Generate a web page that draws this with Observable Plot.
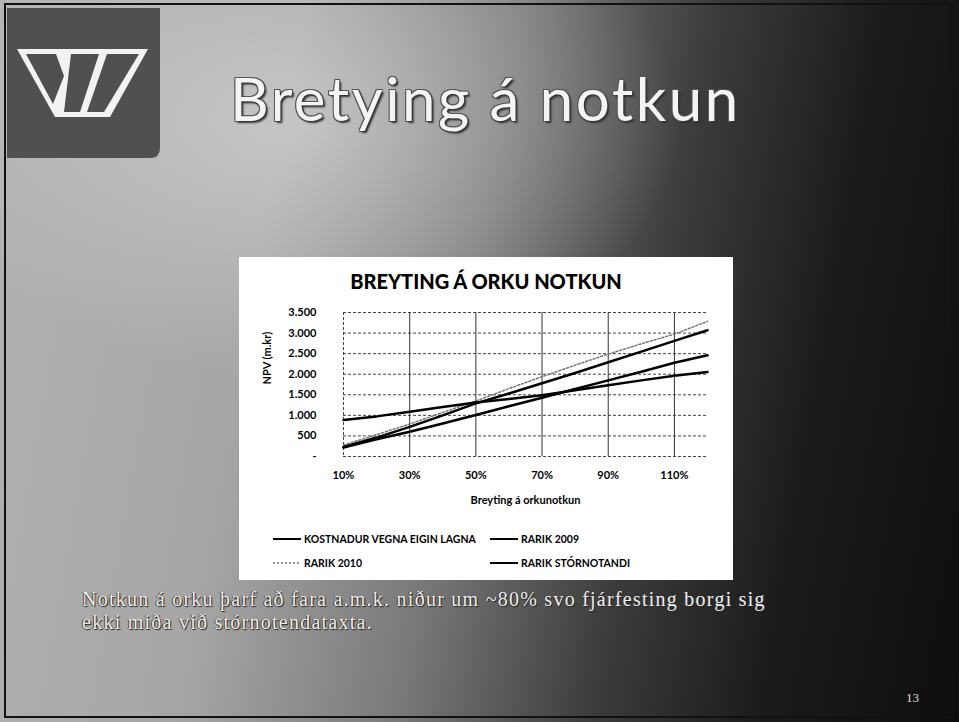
<!DOCTYPE html>
<html>
<head>
<meta charset="utf-8">
<script src="https://cdn.jsdelivr.net/npm/d3@7"></script>
<script src="https://cdn.jsdelivr.net/npm/@observablehq/plot@0.6"></script>
<style>
  html, body { margin: 0; padding: 0; }
  body {
    width: 959px; height: 722px; position: relative; overflow: hidden;
    background:
      radial-gradient(ellipse 380px 260px at 300px 120px, rgba(225,225,225,0.55), rgba(225,225,225,0) 100%),
      linear-gradient(100deg, #b2b2b2 0%, #a6a6a6 28%, #7a7a7a 48%, #3c3c3c 66%, #1a1a1a 82%, #0e0e0e 100%);
    font-family: Lato, "Open Sans", sans-serif;
  }
  .frame { position: absolute; left: 4px; top: 3px; width: 949px; height: 715px; border: 2px solid #111; box-sizing: border-box; }
  #logo { position: absolute; left: 7px; top: 8px; }
  #title {
    position: absolute; left: 230px; top: 62px; font-family: Lato, sans-serif; font-size: 60px;
    color: #f4f4f4; letter-spacing: 2.5px; white-space: nowrap;
    text-shadow: 2px 2px 2px #333, -1px -1px 0 #555, 1px -1px 0 #555, -1px 1px 0 #555;
  }
  #box { position: absolute; left: 239px; top: 257px; width: 494px; height: 323px; background: #fff; }
  #ctitle { position: absolute; left: 239px; top: 269px; width: 494px; text-align: center; font-family: Lato, sans-serif; font-weight: 900; font-size: 20px; color: #000; }
  #chart { position: absolute; left: 239px; top: 300px; }
  .leg { position: absolute; font-family: Lato, sans-serif; font-weight: bold; font-size: 10.5px; color: #000; white-space: nowrap; display: flex; align-items: center; }
  .leg svg { margin-right: 3px; }
  .cap {
    position: absolute; left: 82px; font-family: "Liberation Serif", serif; font-size: 20px; line-height: 20px;
    letter-spacing: 1.25px; color: #eeeeee; white-space: nowrap; text-shadow: 1px 1px 1px #222, -1px 0 0 #444;
  }
  #page { position: absolute; left: 906px; top: 690px; font-family: "Liberation Serif", serif; font-size: 13px; color: #ddd; }
</style>
</head>
<body>
<div class="frame"></div>
<svg id="logo" width="155" height="152" viewBox="0 0 155 152">
  <path d="M0,0 H153 V140 Q153,150 143,150 H0 Z" fill="#505050"/>
  <polygon points="10,41 141,41 103,109 48,109" fill="#f2f2f2"/>
  <polygon points="19,46 49,46 57,68 46,96" fill="#505050"/>
  <polygon points="64,46 92,46 73,104 57,104" fill="#505050"/>
  <polygon points="100,46 132,46 97,104 80,104" fill="#505050"/>
</svg>
<div id="title">Bretying á notkun</div>
<div id="box"></div>
<div id="ctitle">BREYTING Á ORKU NOTKUN</div>
<div id="chart"></div>
<div class="leg" id="leg0" style="left:273px; top:533px;"></div>
<div class="leg" id="leg1" style="left:490px; top:533px;"></div>
<div class="leg" id="leg2" style="left:273px; top:557px;"></div>
<div class="leg" id="leg3" style="left:490px; top:557px;"></div>
<div class="cap" style="top:589px;">Notkun á orku þarf að fara a.m.k. niður um ~80% svo fjárfesting borgi sig</div>
<div class="cap" style="top:612px;">ekki miða við stórnotendataxta.</div>
<div id="page">13</div>
<script>
// ---- data ----
const pct = [10, 20, 30, 40, 50, 60, 70, 80, 90, 100, 110, 120];
const kostnadur = [890, 975, 1085, 1205, 1310, 1400, 1490, 1610, 1730, 1850, 1960, 2055];
const rarik2009 = [230, 460, 720, 1000, 1290, 1530, 1780, 2030, 2290, 2550, 2810, 3070];
const rarik2010 = [280, 530, 790, 1070, 1350, 1650, 1940, 2220, 2490, 2740, 2975, 3285];
const stornotandi = [220, 420, 600, 800, 1010, 1220, 1430, 1640, 1850, 2060, 2280, 2460];
const seriesNames = ["KOSTNADUR VEGNA EIGIN LAGNA", "RARIK 2009", "RARIK 2010", "RARIK STÓRNOTANDI"];
const seriesValues = [kostnadur, rarik2009, rarik2010, stornotandi];
const seriesDashed = [false, false, true, false];
const xTicks = [10, 30, 50, 70, 90, 110];
const yTicks = [0, 500, 1000, 1500, 2000, 2500, 3000, 3500];
const yTickLabels = ["-", "500", "1.000", "1.500", "2.000", "2.500", "3.000", "3.500"];
const xAxisLabel = "Breyting á orkunotkun";
const yAxisLabel = "NPV (m.kr)";

const rows = [];
seriesNames.forEach((name, s) => pct.forEach((p, i) => rows.push({series: name, pct: p, value: seriesValues[s][i]})));
const solidRows = rows.filter(r => !seriesDashed[seriesNames.indexOf(r.series)]);
const dashedRows = rows.filter(r => seriesDashed[seriesNames.indexOf(r.series)]);

const chart = Plot.plot({
  width: 494, height: 215,
  marginLeft: 104, marginRight: 26, marginTop: 12, marginBottom: 59,
  style: {background: "transparent", fontFamily: "Lato, sans-serif", fontWeight: "bold", fontSize: "11px", color: "#000"},
  x: {type: "linear", domain: [10, 120], ticks: xTicks, tickFormat: d => d + "%", label: null, tickSize: 0, tickPadding: 15},
  y: {domain: [0, 3500], ticks: yTicks, tickFormat: d => yTickLabels[yTicks.indexOf(d)], label: null, tickSize: 0, tickPadding: 27},
  marks: [
    Plot.ruleY(yTicks, {stroke: "#444", strokeDasharray: "3,2", strokeWidth: 1}),
    Plot.ruleX([10], {stroke: "#444", strokeDasharray: "3,2", strokeWidth: 1}),
    Plot.ruleX(xTicks.slice(1), {stroke: "#333", strokeWidth: 1}),
    Plot.line(dashedRows, {x: "pct", y: "value", z: "series", stroke: "#777", strokeWidth: 1.5, strokeDasharray: "2,2"}),
    Plot.line(solidRows, {x: "pct", y: "value", z: "series", stroke: "#000", strokeWidth: 2.5}),
    Plot.text([xAxisLabel], {text: d => d, frameAnchor: "bottom", dy: 47, fontSize: 11, fontWeight: "bold"}),
    Plot.text([yAxisLabel], {text: d => d, frameAnchor: "left", dx: -76, rotate: -90, fontSize: 11, fontWeight: "bold"})
  ]
});
document.getElementById("chart").appendChild(chart);

seriesNames.forEach((name, s) => {
  const el = document.getElementById("leg" + s);
  const dash = seriesDashed[s] ? 'stroke="#777" stroke-width="1.5" stroke-dasharray="2,2"' : 'stroke="#000" stroke-width="2"';
  el.innerHTML = `<svg width="28" height="6"><line x1="0" x2="28" y1="3" y2="3" ${dash}/></svg><span>${name}</span>`;
});
</script>
</body>
</html>
